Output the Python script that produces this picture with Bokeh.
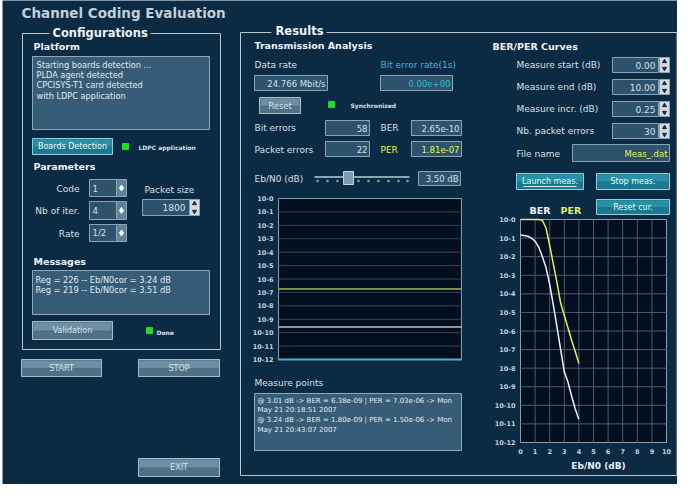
import numpy as np
from bokeh.plotting import figure
from bokeh.models import Range1d, ColumnDataSource
from bokeh.core.properties import value
from bokeh.embed import file_html
from bokeh.resources import INLINE

# ---------------- data ----------------
curve_ebn0 = [0.0, 0.25, 0.5, 0.75, 1.0, 1.25, 1.5, 1.75, 2.0, 2.25, 2.5, 2.75,
              3.0, 3.25, 3.5, 3.75, 4.0]
curve_ber = [1.45e-01, 1.38e-01, 1.26e-01, 1.0e-01, 6.8e-02, 3.2e-02, 1.0e-02,
             2.5e-03, 3.2e-04, 2.5e-05, 1.6e-06, 1.0e-07, 6.38e-09, 1.80e-09,
             3.2e-10, 6.3e-11, 1.8e-11]
curve_per = [1.0, 1.0, 1.0, 1.0, 1.0, 1.0, 0.89, 0.35, 4.0e-02, 4.0e-03, 4.0e-04,
             3.2e-05, 7.03e-06, 1.50e-06, 3.2e-07, 7.9e-08, 1.8e-08]
curve_xticks = [0, 1, 2, 3, 4, 5, 6, 7, 8, 9, 10]
decade_ticks = [0, -1, -2, -3, -4, -5, -6, -7, -8, -9, -10, -11, -12]
decade_labels = ["10-0", "10-1", "10-2", "10-3", "10-4", "10-5", "10-6", "10-7",
                 "10-8", "10-9", "10-10", "10-11", "10-12"]

hist_time = [0, 10, 20, 30, 40, 50, 60]
hist_ber = [2.65e-10, 2.65e-10, 2.65e-10, 2.65e-10, 2.65e-10, 2.65e-10, 2.65e-10]
hist_per = [1.81e-07, 1.81e-07, 1.81e-07, 1.81e-07, 1.81e-07, 1.81e-07, 1.81e-07]
hist_ber1s = [0.0, 0.0, 0.0, 0.0, 0.0, 0.0, 0.0]
FLOOR = 1e-12

platform_msgs = ["Starting boards detection ...", "PLDA agent detected",
                 "CPCISYS-T1 card detected", "with LDPC application"]
messages = ["Reg = 226 -- Eb/N0cor = 3.24 dB", "Reg = 219 -- Eb/N0cor = 3.51 dB"]
measure_points = ["@ 3.01 dB -> BER = 6.38e-09 | PER = 7.03e-06 -> Mon",
                  "May 21 20:18:51 2007",
                  "@ 3.24 dB -> BER = 1.80e-09 | PER = 1.50e-06 -> Mon",
                  "May 21 20:43:07 2007"]

# ---------------- colours ----------------
BG = "#0b2a44"
TITLE = "#c3ced6"
LBL = "#d8e0e6"
HDR = "#eef2f5"
FRAME = "#b7c6cf"
AREA_F, AREA_L = "#365c78", "#8fa9ba"
ENT_F, ENT_L = "#2c526e", "#8ba4b5"
BTN_F, BTN_L, BTN_H = "#4f7187", "#a9bfcc", "#6d8ea3"
TEAL_F, TEAL_L, TEAL_H = "#1a7890", "#8fd0de", "#2a90a8"
GREEN = "#1ee01e"
CYAN = "#38b6dc"
YEL = "#e6f05a"
PLOT_BG = "#030e1f"
PLOT_L = "#8aa0b0"

p = figure(width=677, height=484, x_range=Range1d(8, 685), y_range=Range1d(492, 8),
           output_backend="svg", toolbar_location=None, min_border=0)
p.axis.visible = False
p.grid.visible = False
p.outline_line_color = None
p.background_fill_color = "white"
p.border_fill_color = "white"

FONT = value("DejaVu Sans")

# background
p.quad(left=[10], right=[686], top=[6], bottom=[493], fill_color=BG, line_color=None)

# ---- rectangles ----
Q = dict(l=[], r=[], t=[], b=[], f=[], lc=[])
H = dict(l=[], r=[], t=[], b=[], f=[])
def box(x0, y0, x1, y1, f, lc):
    Q["l"].append(x0); Q["r"].append(x1); Q["t"].append(y0); Q["b"].append(y1)
    Q["f"].append(f); Q["lc"].append(lc)
def hi(x0, y0, x1, y1, f):
    H["l"].append(x0 + 1); H["r"].append(x1 - 1); H["t"].append(y0 + 1)
    H["b"].append((y0 + y1) / 2); H["f"].append(f)

# text areas
for bx in [(40, 64, 217, 137), (40, 278, 217, 322), (262, 401, 469, 458)]:
    box(*bx, AREA_F, AREA_L)
# entries
for bx in [(97, 187, 124, 204), (97, 209, 124, 227), (97, 232, 124, 249),
           (150, 207, 197, 223), (262, 83, 335, 98), (388, 83, 460, 98),
           (333, 128, 377, 143), (419, 128, 469, 143), (333, 149, 377, 164),
           (419, 149, 469, 164), (426, 179, 468, 193), (620, 65, 666, 80),
           (620, 87, 666, 102), (620, 109, 666, 124), (620, 131, 666, 146),
           (580, 152, 677, 169)]:
    box(*bx, ENT_F, ENT_L)
# combo arrow parts
combo = [(124, 187, 134, 204), (124, 209, 134, 227), (124, 232, 134, 249)]
for bx in combo:
    box(*bx, "#5f8298", "#8ba4b5")
# spin arrow parts
spins = [(197, 207, 207, 223), (667, 65, 677, 80), (667, 87, 677, 102),
         (667, 109, 677, 124), (667, 131, 677, 146)]
for bx in spins:
    box(*bx, "#d3dbe1", "#8ba4b5")
# grey buttons
for bx in [(40, 329, 120, 347), (29, 367, 109, 384), (146, 367, 227, 384),
           (146, 466, 227, 484), (267, 105, 308, 121)]:
    box(*bx, BTN_F, BTN_L)
    hi(*bx, BTN_H)
# teal buttons
for bx in [(40, 146, 120, 162), (524, 181, 591, 197), (604, 181, 677, 197),
           (604, 207, 677, 222)]:
    box(*bx, TEAL_F, TEAL_L)
    hi(*bx, TEAL_H)
# green lights
for bx in [(130, 151, 136, 157), (336, 109, 342, 115), (154, 335, 160, 341)]:
    box(*bx, GREEN, GREEN)
# chart backgrounds
box(286, 206, 469, 367, PLOT_BG, PLOT_L)
box(528, 227, 674, 450, PLOT_BG, PLOT_L)

p.quad(left="l", right="r", top="t", bottom="b", fill_color="f", line_color="lc",
       line_width=1, source=ColumnDataSource(Q))
p.quad(left="l", right="r", top="t", bottom="b", fill_color="f", line_color=None,
       source=ColumnDataSource(H))

# frames
p.multi_line(xs=[[57, 30, 30, 228, 228, 158], [279, 248, 248, 684.5, 684.5, 334]],
             ys=[[41, 41, 357, 357, 41, 41], [40, 40, 483, 483, 40, 40]],
             line_color=FRAME, line_width=1)

# slider
p.segment(x0=[322], y0=[184.5], x1=[417], y1=[184.5], line_color="#8aa4b4", line_width=2)
p.scatter(x=[325, 335, 345, 356, 366, 376, 386, 396, 406, 415], y=[188.5] * 10,
          size=1.5, color="#7f98a8", marker="square")
p.quad(left=[351], right=[361], top=[179], bottom=[192], fill_color="#7b9bb0",
       line_color="#c0d2dc")

# arrows
p.scatter(x=[(b[0] + b[2]) / 2 for b in combo], y=[(b[1] + b[3]) / 2 for b in combo],
          marker="diamond", size=6, color="white")
p.scatter(x=[(b[0] + b[2]) / 2 for b in spins], y=[b[1] + 4 for b in spins],
          marker="triangle", size=4, color="#1a2a38")
p.scatter(x=[(b[0] + b[2]) / 2 for b in spins], y=[b[3] - 4 for b in spins],
          marker="inverted_triangle", size=4, color="#1a2a38")

# underline on focused button
p.segment(x0=[531], y0=[194], x1=[584], y1=[194], line_color="#e8f4f8", line_width=1)

# ---- texts ----
T = dict(x=[], y=[], text=[], size=[], color=[], style=[], align=[])
def t(x, y, s, size=9, color=LBL, bold=False, align="left"):
    T["x"].append(x); T["y"].append(y); T["text"].append(s)
    T["size"].append(f"{size}px"); T["color"].append(color)
    T["style"].append("bold" if bold else "normal"); T["align"].append(align)

t(29, 20, "Channel Coding Evaluation", 13.5, TITLE, True)
t(60, 40, "Configurations", 11.5, HDR, True)
t(41, 54, "Platform", 9.5, HDR, True)
for i, s in enumerate(platform_msgs):
    t(44, 72 + i * 10.4, s, 8.2, "#e2e8ec")
t(80, 154, "Boards Detection", 8, "#eef6f8", align="center")
t(146, 154.5, "LDPC application", 6, LBL, True)
t(41, 174, "Parameters", 9.5, HDR, True)
t(87, 196, "Code", 9, LBL, align="right")
t(87, 218, "Nb of iter.", 9, LBL, align="right")
t(87, 241, "Rate", 9, LBL, align="right")
t(100, 195.5, "1", 8.5)
t(100, 218, "4", 8.5)
t(100, 240.5, "1/2", 8.5)
t(152, 197, "Packet size", 9)
t(193, 215, "1800", 9, align="right")
t(41, 269, "Messages", 9.5, HDR, True)
for i, s in enumerate(messages):
    t(43, 287 + i * 10.3, s, 8.2, "#e2e8ec")
t(80, 338, "Validation", 8, align="center")
t(164, 340, "Done", 6, LBL, True)
t(69, 375.5, "START", 8, align="center")
t(186.5, 375.5, "STOP", 8, align="center")
t(186.5, 475, "EXIT", 8, align="center")

t(283, 38, "Results", 11.5, HDR, True)
t(262, 53, "Transmission Analysis", 9.5, HDR, True)
t(262, 72, "Data rate", 9)
t(388, 72, "Bit error rate(1s)", 9, CYAN)
t(333, 91, "24.766 Mbit/s", 8.5, align="right")
t(458, 91, "0.00e+00", 8.5, CYAN, align="right")
t(287.5, 113, "Reset", 8.5, align="center")
t(358, 112.5, "Synchronized", 6, LBL, True)
t(262, 135, "Bit errors", 9)
t(375, 136, "58", 8.5, align="right")
t(388, 135, "BER", 9)
t(467, 136, "2.65e-10", 8.5, align="right")
t(262, 157, "Packet errors", 9)
t(375, 157, "22", 8.5, align="right")
t(388, 157, "PER", 9, YEL)
t(467, 157, "1.81e-07", 8.5, YEL, align="right")
t(262, 186, "Eb/N0 (dB)", 9)
t(466, 186, "3.50 dB", 8.5, align="right")
t(262, 390, "Measure points", 9)
for i, s in enumerate(measure_points):
    t(265, 408 + i * 9.8, s, 7, "#e2e8ec")

t(500, 54, "BER/PER Curves", 9.5, HDR, True)
for yy, s in [(72, "Measure start (dB)"), (94, "Measure end (dB)"),
              (116, "Measure incr. (dB)"), (138, "Nb. packet errors"), (161, "File name")]:
    t(524, yy, s, 9)
for yy, s in [(73, "0.00"), (95, "10.00"), (117, "0.25"), (139, "30")]:
    t(663, yy, s, 9, align="right")
t(675, 161, "Meas_.dat", 8.5, YEL, align="right")
t(557.5, 189, "Launch meas.", 8, "#eef6f8", align="center")
t(640.5, 189, "Stop meas.", 8, "#eef6f8", align="center")
t(640.5, 214.5, "Reset cur.", 8, "#eef6f8", align="center")
t(537, 218, "BER", 9.5, "#f2f4f6", True)
t(568, 218, "PER", 9.5, YEL, True)
t(606, 473, "Eb/N0 (dB)", 9, "#e8eef2", True, "center")

p.text(x="x", y="y", text="text", text_font=FONT, text_font_size="size",
       text_color="color", text_font_style="style", text_align="align",
       text_baseline="middle", source=ColumnDataSource(T))

# ---------------- transmission history chart ----------------
tr = p.subplot(x_source=Range1d(0, 60), y_source=Range1d(-12, 0),
               x_target=Range1d(286, 469), y_target=Range1d(367, 206))
tr.segment(x0=[0] * 11, x1=[60] * 11, y0=decade_ticks[1:-1], y1=decade_ticks[1:-1],
           line_color="#2f4a62", line_width=1)
tr.line(hist_time, np.log10(hist_per), line_color="#7f8f3a", line_width=2)
tr.line(hist_time, np.log10(hist_ber), line_color="#b8c4c8", line_width=1.5)
tr.line(hist_time, np.log10(np.maximum(hist_ber1s, FLOOR)), line_color="#46b4cc",
        line_width=2)
tr.text(x=[0] * 13, y=decade_ticks, text=decade_labels, x_offset=-5,
        text_align="right", text_baseline="middle", text_font=FONT,
        text_font_size="6.5px", text_font_style="bold", text_color="#c8d2da")

# ---------------- BER / PER curves ----------------
cv = p.subplot(x_source=Range1d(0, 10), y_source=Range1d(-12, 0),
               x_target=Range1d(528, 674), y_target=Range1d(450, 227))
cv.segment(x0=curve_xticks[1:-1], x1=curve_xticks[1:-1], y0=[-12] * 9, y1=[0] * 9,
           line_color="#4a5e70", line_width=1)
cv.segment(x0=[0] * 11, x1=[10] * 11, y0=decade_ticks[1:-1], y1=decade_ticks[1:-1],
           line_color="#4a5e70", line_width=1)
cv.line(curve_ebn0, np.log10(curve_per), line_color="#e4ee62", line_width=1.5)
cv.line(curve_ebn0, np.log10(curve_ber), line_color="#f2f2f2", line_width=1.5)
cv.text(x=[0] * 13, y=decade_ticks, text=decade_labels, x_offset=-5,
        text_align="right", text_baseline="middle", text_font=FONT,
        text_font_size="6.5px", text_font_style="bold", text_color="#c8d2da")
cv.text(x=curve_xticks, y=[-12] * 11, text=[str(v) for v in curve_xticks], y_offset=9,
        text_align="center", text_baseline="middle", text_font=FONT,
        text_font_size="6.5px", text_font_style="bold", text_color="#c8d2da")

open("out.html", "w").write(file_html(p, INLINE))
